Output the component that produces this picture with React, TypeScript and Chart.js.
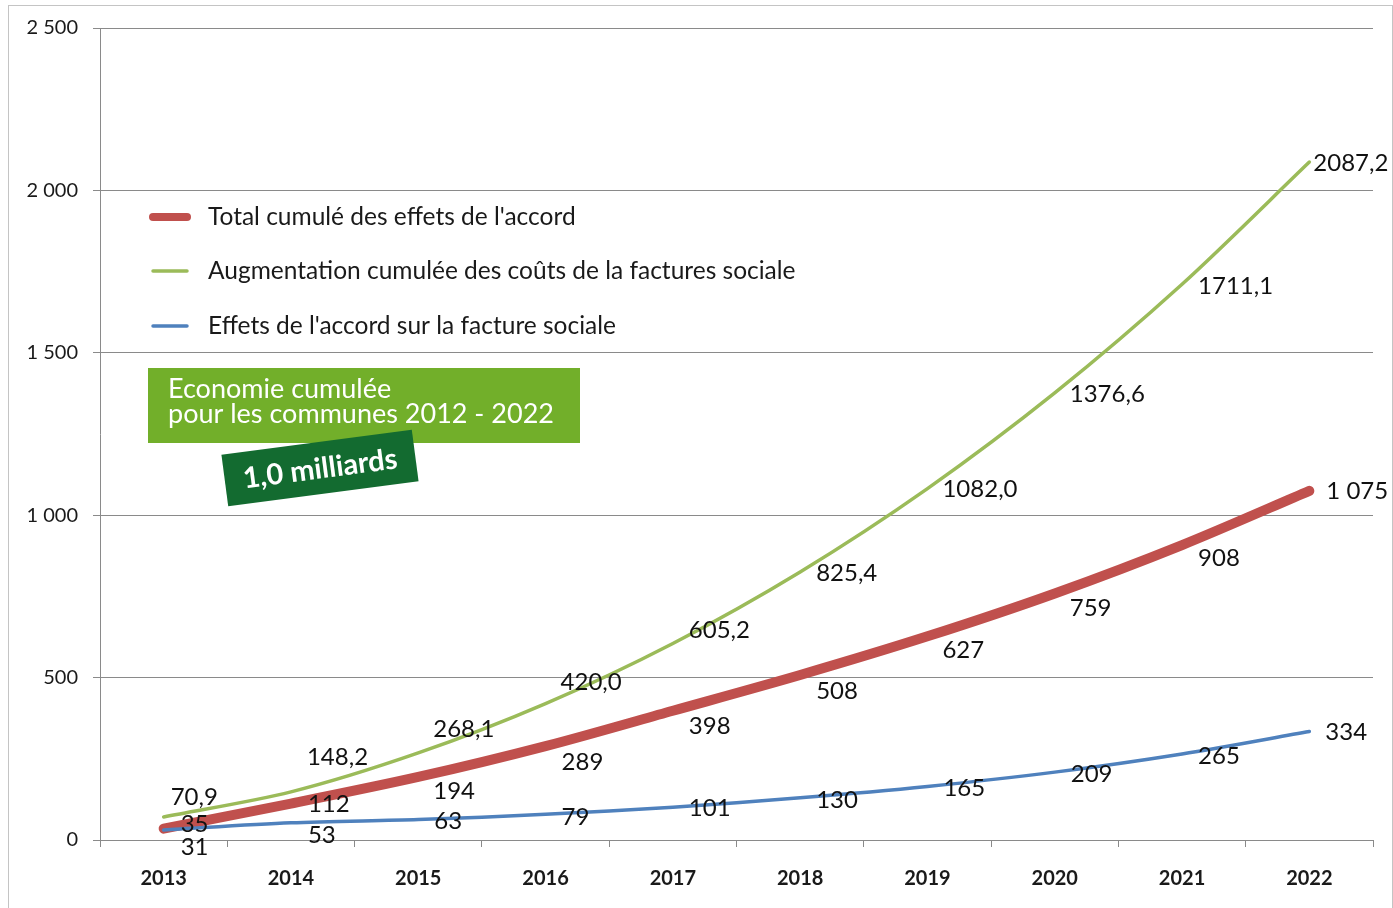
import React, { useEffect, useRef } from "react";
import { Chart, registerables } from "chart.js";

Chart.register(...registerables);

const years = ["2013", "2014", "2015", "2016", "2017", "2018", "2019", "2020", "2021", "2022"];
const totalCumule = [35, 112, 194, 289, 398, 508, 627, 759, 908, 1075];
const augmentationCouts = [70.9, 148.2, 268.1, 420.0, 605.2, 825.4, 1082.0, 1376.6, 1711.1, 2087.2];
const effetsFacture = [31, 53, 63, 79, 101, 130, 165, 209, 265, 334];

const seriesNames = [
  "Total cumulé des effets de l'accord",
  "Augmentation cumulée des coûts de la factures sociale",
  "Effets de l'accord sur la facture sociale",
];

// label nudges (px) relative to each point
const totalLabelDx = [17, 17, 15, 16, 16, 16, 15, 15, 16, 17];
const totalLabelDy = [-4, 1, 14, 16, 16, 16, 14, 15, 13, 0];
const augmLabelDx = [7, 16, 15, 15, 16, 16, 15, 15, 16, 4];
const augmLabelDy = [-20, -35, -24, -21, -13, 1, 1, 1, 2, 1];
const effetsLabelDx = [17, 17, 16, 16, 16, 16, 16, 16, 16, 16];
const effetsLabelDy = [17, 12, 2, 3, 1, 2, 2, 2, 2, 1];

const FONT = "Lato, 'Open Sans', sans-serif";

const fmtInt = (v: number) => {
  const s = Math.round(v).toString();
  return s.replace(/\B(?=(\d{3})+(?!\d))/g, " ");
};
const fmtDec = (v: number) => v.toFixed(1).replace(".", ",");

export default function App() {
  const ref = useRef<HTMLCanvasElement | null>(null);

  useEffect(() => {
    if (!ref.current) return;
    const labelCfg = [
      { dx: totalLabelDx, dy: totalLabelDy, fmt: fmtInt },
      { dx: augmLabelDx, dy: augmLabelDy, fmt: fmtDec },
      { dx: effetsLabelDx, dy: effetsLabelDy, fmt: fmtInt },
    ];

    const overlay = {
      id: "overlay",
      afterDatasetsDraw(chart: any) {
        const ctx = chart.ctx as CanvasRenderingContext2D;
        ctx.save();
        // data labels
        ctx.font = `24px ${FONT}`;
        ctx.fillStyle = "#111";
        ctx.textAlign = "left";
        ctx.textBaseline = "middle";
        chart.data.datasets.forEach((ds: any, i: number) => {
          const meta = chart.getDatasetMeta(i);
          const cfg = labelCfg[i];
          meta.data.forEach((pt: any, j: number) => {
            ctx.fillText(cfg.fmt(ds.data[j]), pt.x + cfg.dx[j], pt.y + cfg.dy[j]);
          });
        });

        // legend
        const legendY = [217, 271, 326];
        chart.data.datasets.forEach((ds: any, i: number) => {
          ctx.beginPath();
          ctx.strokeStyle = ds.borderColor;
          ctx.lineWidth = Math.min(ds.borderWidth, 8);
          ctx.lineCap = "round";
          ctx.moveTo(153, legendY[i]);
          ctx.lineTo(187, legendY[i]);
          ctx.stroke();
          ctx.fillStyle = "#1a1a1a";
          ctx.font = `24.5px ${FONT}`;
          ctx.textAlign = "left";
          ctx.textBaseline = "middle";
          ctx.fillText(ds.label, 208, legendY[i]);
        });

        // green note box
        ctx.fillStyle = "#72AF2A";
        ctx.fillRect(148, 368, 432, 75);
        ctx.fillStyle = "#ffffff";
        ctx.font = `27px ${FONT}`;
        ctx.textBaseline = "middle";
        ctx.fillText("Economie cumulée", 168, 389);
        ctx.fillText("pour les communes 2012 - 2022", 168, 414);

        // dark rotated box
        ctx.translate(320, 468);
        ctx.rotate((-7.5 * Math.PI) / 180);
        ctx.fillStyle = "#136B30";
        ctx.fillRect(-96, -26, 192, 52);
        ctx.fillStyle = "#ffffff";
        ctx.font = `bold 29px ${FONT}`;
        ctx.textAlign = "center";
        ctx.fillText("1,0 milliards", 0, 1);
        ctx.restore();
      },
    };

    const chart = new Chart(ref.current, {
      type: "line",
      data: {
        labels: years,
        datasets: [
          {
            label: seriesNames[0],
            data: totalCumule,
            borderColor: "#C0504D",
            backgroundColor: "#C0504D",
            borderWidth: 10,
            borderCapStyle: "round",
            pointRadius: 0,
            tension: 0.3,
            order: 2,
          },
          {
            label: seriesNames[1],
            data: augmentationCouts,
            borderColor: "#9BBB59",
            backgroundColor: "#9BBB59",
            borderWidth: 3.5,
            borderCapStyle: "round",
            pointRadius: 0,
            tension: 0.3,
            order: 1,
          },
          {
            label: seriesNames[2],
            data: effetsFacture,
            borderColor: "#4F81BD",
            backgroundColor: "#4F81BD",
            borderWidth: 3.5,
            borderCapStyle: "round",
            pointRadius: 0,
            tension: 0.3,
            order: 0,
          },
        ],
      },
      options: {
        animation: false,
        responsive: false,
        devicePixelRatio: 1,
        layout: { padding: { left: 0, top: 28, right: 20, bottom: 0 } },
        plugins: {
          legend: { display: false },
          tooltip: { enabled: false },
        },
        scales: {
          x: {
            offset: true,
            grid: {
              offset: true,
              drawOnChartArea: false,
              drawTicks: true,
              tickLength: 7,
              color: "#8a8a8a",
            },
            border: { color: "#8a8a8a", width: 1 },
            ticks: {
              color: "#1a1a1a",
              font: { family: FONT, size: 20, weight: "bold" },
              padding: 20,
              maxRotation: 0,
            },
            afterFit: (s: any) => {
              s.height = 68;
            },
          },
          y: {
            min: 0,
            max: 2500,
            ticks: {
              stepSize: 500,
              color: "#1a1a1a",
              font: { family: FONT, size: 20 },
              padding: 15,
              callback: (v: any) => fmtInt(Number(v)),
            },
            grid: {
              color: "#8a8a8a",
              lineWidth: 1,
              drawTicks: true,
              tickLength: 7,
            },
            border: { color: "#8a8a8a", width: 1 },
            afterFit: (s: any) => {
              s.width = 100;
            },
          },
        },
      },
      plugins: [overlay],
    } as any);

    return () => chart.destroy();
  }, []);

  return (
    <div style={{ position: "fixed", left: 0, top: 0, width: 1393, height: 908, background: "#fff", overflow: "hidden" }}>
      <div
        style={{
          position: "absolute",
          left: 8,
          top: 5,
          width: 1383,
          height: 920,
          border: "1px solid #c4c4c4",
        }}
      />
      <canvas ref={ref} width={1393} height={908} style={{ position: "absolute", left: 0, top: 0 }} />
    </div>
  );
}
